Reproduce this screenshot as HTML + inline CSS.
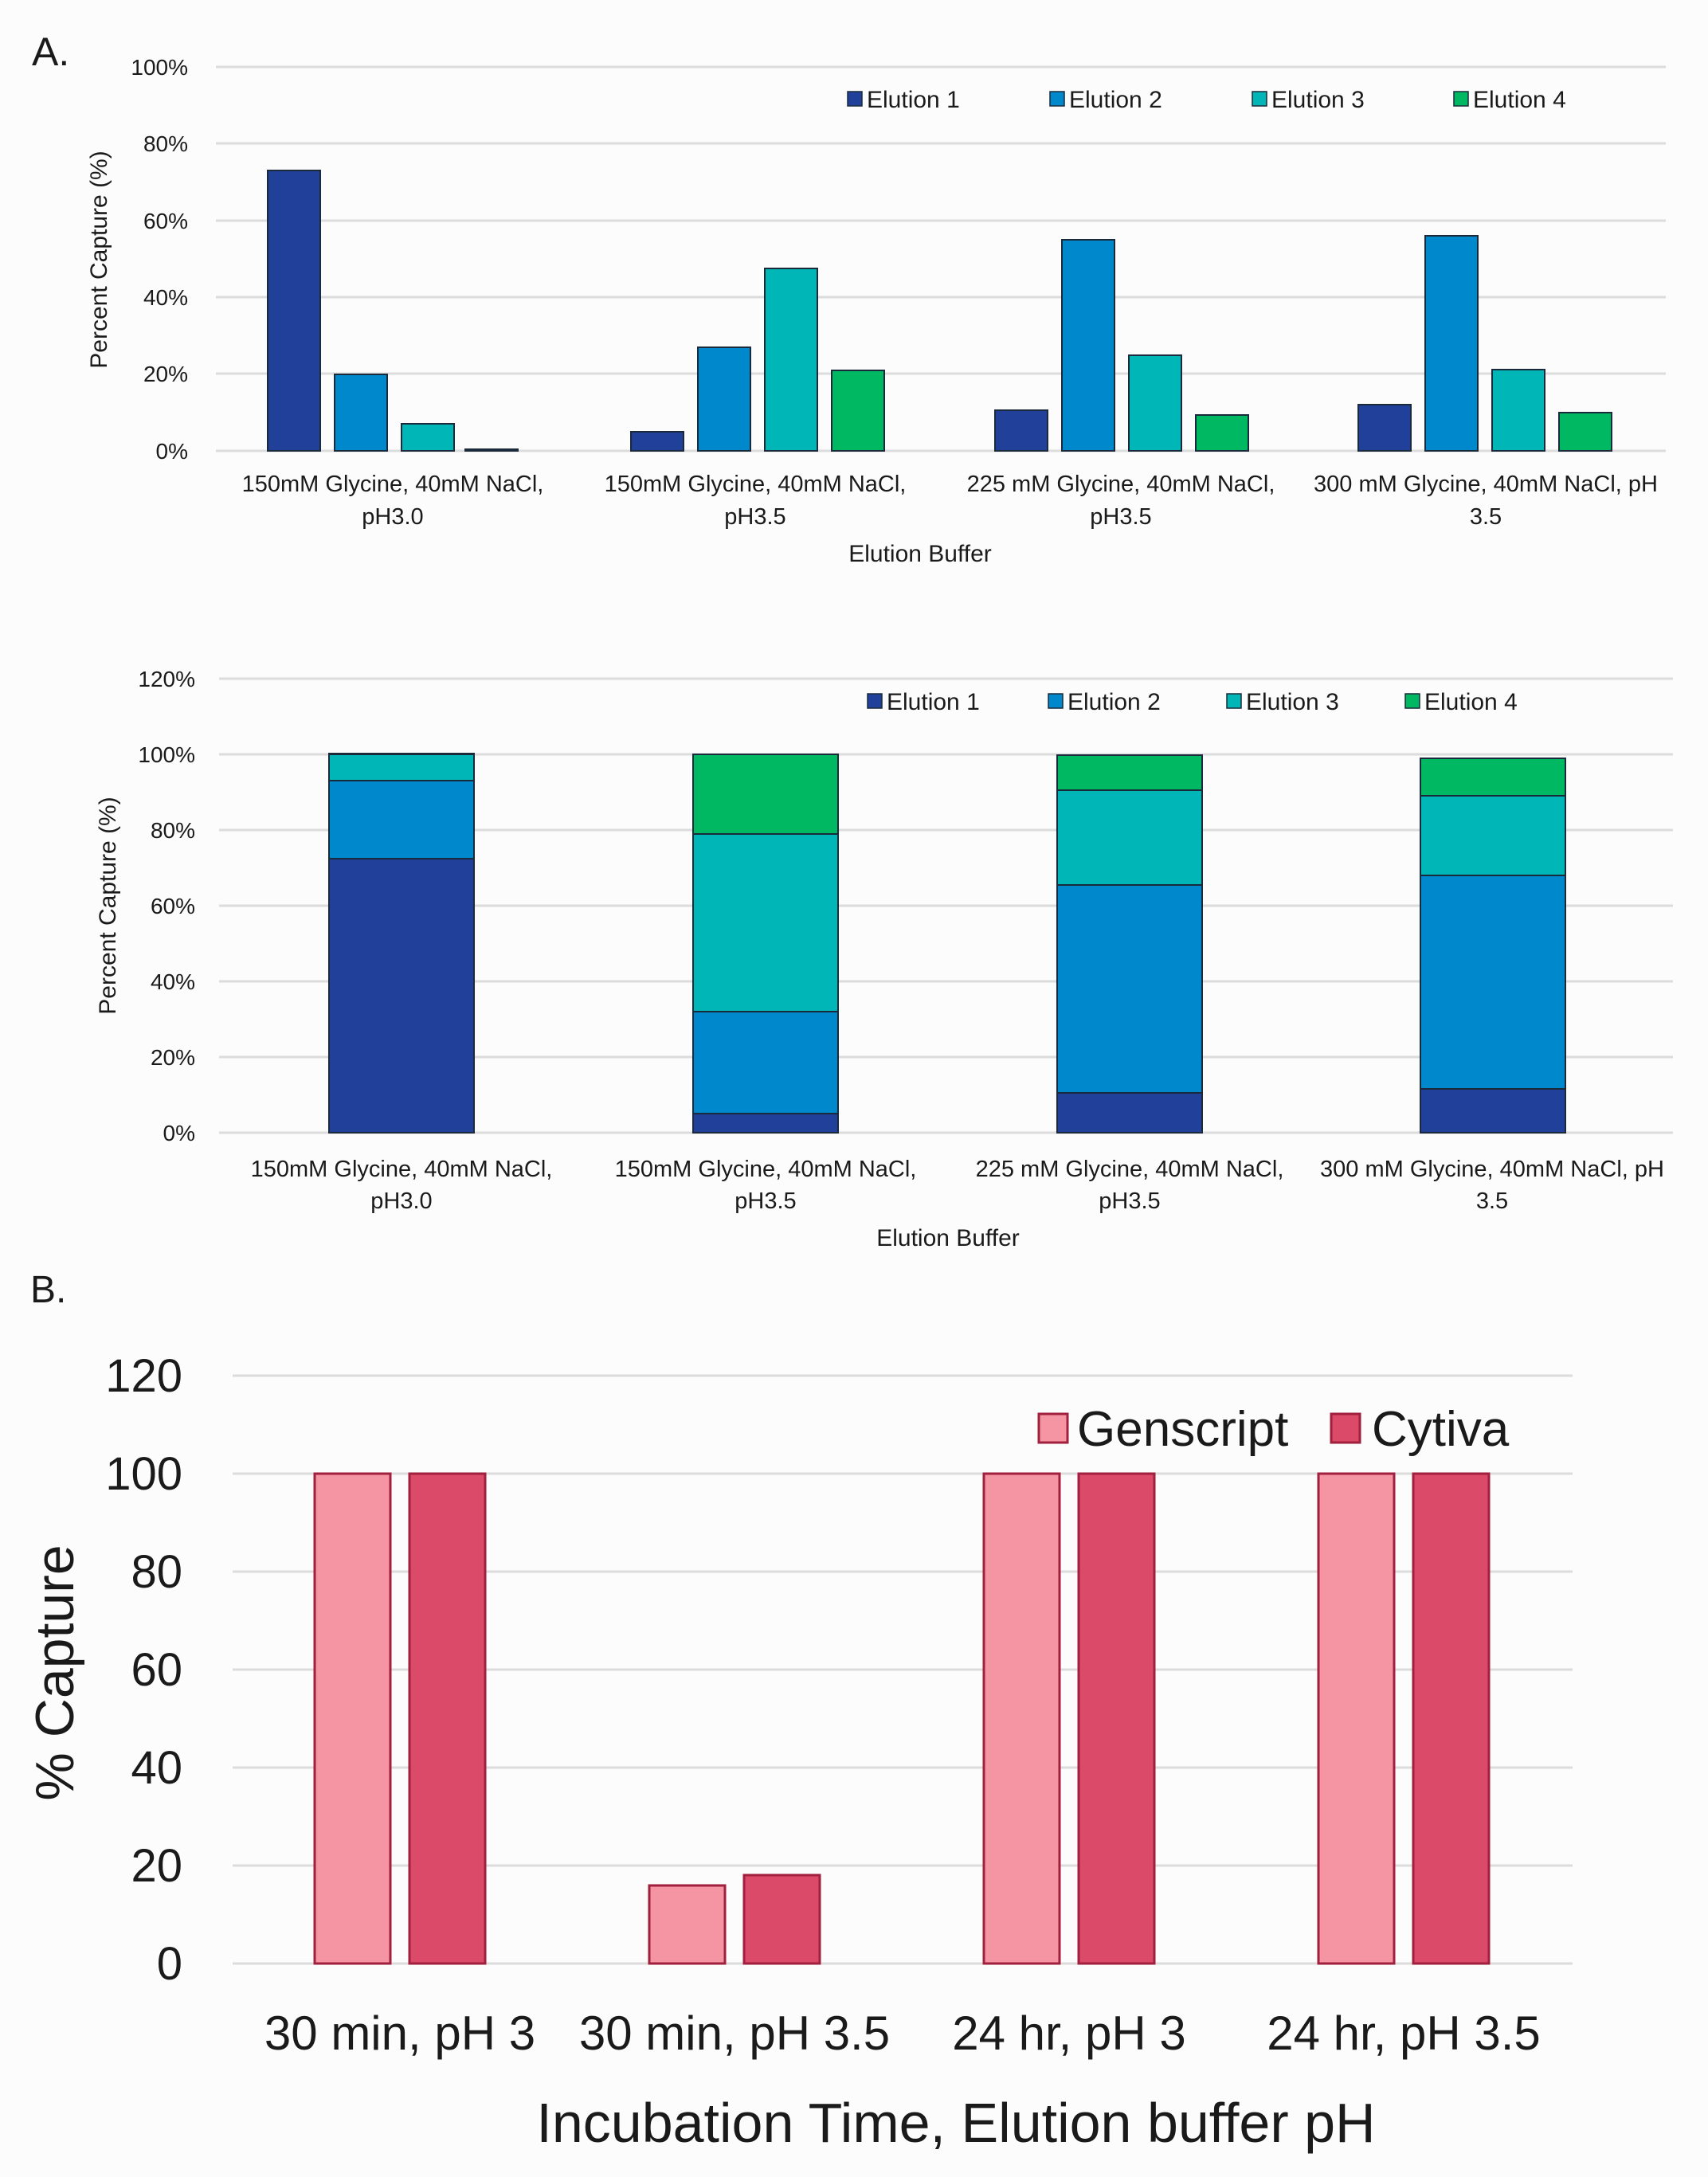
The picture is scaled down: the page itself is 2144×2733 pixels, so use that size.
<!DOCTYPE html>
<html><head><meta charset="utf-8"><style>
html,body{margin:0;padding:0;background:#fcfcfc}
svg{display:block}
text{font-family:"Liberation Sans",sans-serif;fill:#1a1a1a}
</style></head><body>
<svg width="2144" height="2733" viewBox="0 0 2144 2733" xmlns="http://www.w3.org/2000/svg">
<rect width="2144" height="2733" fill="#fcfcfc"/>
<!-- Panel A top -->
<text x="40" y="82" font-size="50">A.</text>
<g stroke="#dcdcdc" stroke-width="3">
<line x1="271" y1="84" x2="2091" y2="84"/><line x1="271" y1="180" x2="2091" y2="180"/>
<line x1="271" y1="277" x2="2091" y2="277"/><line x1="271" y1="373" x2="2091" y2="373"/>
<line x1="271" y1="469" x2="2091" y2="469"/><line x1="271" y1="566" x2="2091" y2="566"/>
</g>
<g font-size="28" text-anchor="end">
<text x="236" y="94">100%</text><text x="236" y="190">80%</text><text x="236" y="287">60%</text>
<text x="236" y="383">40%</text><text x="236" y="479">20%</text><text x="236" y="576">0%</text>
</g>
<text transform="translate(134,326) rotate(-90)" font-size="30" text-anchor="middle">Percent Capture (%)</text>
<g stroke="#1a2a3a" stroke-width="2">
<rect x="336" y="214" width="66" height="352" fill="#21409a"/>
<rect x="420" y="470" width="66" height="96" fill="#0088cc"/>
<rect x="504" y="532" width="66" height="34" fill="#00b6b6"/>
<rect x="584" y="564" width="66" height="2" fill="#00b862"/>
<rect x="792" y="542" width="66" height="24" fill="#21409a"/>
<rect x="876" y="436" width="66" height="130" fill="#0088cc"/>
<rect x="960" y="337" width="66" height="229" fill="#00b6b6"/>
<rect x="1044" y="465" width="66" height="101" fill="#00b862"/>
<rect x="1249" y="515" width="66" height="51" fill="#21409a"/>
<rect x="1333" y="301" width="66" height="265" fill="#0088cc"/>
<rect x="1417" y="446" width="66" height="120" fill="#00b6b6"/>
<rect x="1501" y="521" width="66" height="45" fill="#00b862"/>
<rect x="1705" y="508" width="66" height="58" fill="#21409a"/>
<rect x="1789" y="296" width="66" height="270" fill="#0088cc"/>
<rect x="1873" y="464" width="66" height="102" fill="#00b6b6"/>
<rect x="1957" y="518" width="66" height="48" fill="#00b862"/>
</g>
<g font-size="30">
<rect x="1064" y="115" width="18" height="18" fill="#21409a" stroke="#1a2a3a" stroke-width="1.5"/><text x="1088" y="135">Elution 1</text>
<rect x="1318" y="115" width="18" height="18" fill="#0088cc" stroke="#1a2a3a" stroke-width="1.5"/><text x="1342" y="135">Elution 2</text>
<rect x="1572" y="115" width="18" height="18" fill="#00b6b6" stroke="#1a2a3a" stroke-width="1.5"/><text x="1596" y="135">Elution 3</text>
<rect x="1825" y="115" width="18" height="18" fill="#00b862" stroke="#1a2a3a" stroke-width="1.5"/><text x="1849" y="135">Elution 4</text>
</g>
<g font-size="29" text-anchor="middle">
<text x="493" y="617">150mM Glycine, 40mM NaCl,</text><text x="493" y="658">pH3.0</text>
<text x="948" y="617">150mM Glycine, 40mM NaCl,</text><text x="948" y="658">pH3.5</text>
<text x="1407" y="617">225 mM Glycine, 40mM NaCl,</text><text x="1407" y="658">pH3.5</text>
<text x="1865" y="617">300 mM Glycine, 40mM NaCl, pH</text><text x="1865" y="658">3.5</text>
<text x="1155" y="705" font-size="30">Elution Buffer</text>
</g>
<!-- Panel A bottom -->
<g stroke="#dcdcdc" stroke-width="3">
<line x1="275" y1="852" x2="2100" y2="852"/><line x1="275" y1="947" x2="2100" y2="947"/>
<line x1="275" y1="1042" x2="2100" y2="1042"/><line x1="275" y1="1137" x2="2100" y2="1137"/>
<line x1="275" y1="1232" x2="2100" y2="1232"/><line x1="275" y1="1327" x2="2100" y2="1327"/>
<line x1="275" y1="1422" x2="2100" y2="1422"/>
</g>
<g font-size="28" text-anchor="end">
<text x="245" y="862">120%</text><text x="245" y="957">100%</text><text x="245" y="1052">80%</text>
<text x="245" y="1147">60%</text><text x="245" y="1242">40%</text><text x="245" y="1337">20%</text><text x="245" y="1432">0%</text>
</g>
<text transform="translate(145,1137) rotate(-90)" font-size="30" text-anchor="middle">Percent Capture (%)</text>
<g stroke="#1a2a3a" stroke-width="2">
<rect x="413" y="1078" width="182" height="344" fill="#21409a"/>
<rect x="413" y="980" width="182" height="98" fill="#0088cc"/>
<rect x="413" y="947" width="182" height="33" fill="#00b6b6"/>
<rect x="413" y="946" width="182" height="1" fill="#00b862"/>
<rect x="870" y="1398" width="182" height="24" fill="#21409a"/>
<rect x="870" y="1270" width="182" height="128" fill="#0088cc"/>
<rect x="870" y="1047" width="182" height="223" fill="#00b6b6"/>
<rect x="870" y="947" width="182" height="100" fill="#00b862"/>
<rect x="1327" y="1372" width="182" height="50" fill="#21409a"/>
<rect x="1327" y="1111" width="182" height="261" fill="#0088cc"/>
<rect x="1327" y="992" width="182" height="119" fill="#00b6b6"/>
<rect x="1327" y="948" width="182" height="44" fill="#00b862"/>
<rect x="1783" y="1367" width="182" height="55" fill="#21409a"/>
<rect x="1783" y="1099" width="182" height="268" fill="#0088cc"/>
<rect x="1783" y="999" width="182" height="100" fill="#00b6b6"/>
<rect x="1783" y="952" width="182" height="47" fill="#00b862"/>
</g>
<g font-size="30">
<rect x="1089" y="871" width="18" height="18" fill="#21409a" stroke="#1a2a3a" stroke-width="1.5"/><text x="1113" y="891">Elution 1</text>
<rect x="1316" y="871" width="18" height="18" fill="#0088cc" stroke="#1a2a3a" stroke-width="1.5"/><text x="1340" y="891">Elution 2</text>
<rect x="1540" y="871" width="18" height="18" fill="#00b6b6" stroke="#1a2a3a" stroke-width="1.5"/><text x="1564" y="891">Elution 3</text>
<rect x="1764" y="871" width="18" height="18" fill="#00b862" stroke="#1a2a3a" stroke-width="1.5"/><text x="1788" y="891">Elution 4</text>
</g>
<g font-size="29" text-anchor="middle">
<text x="504" y="1477">150mM Glycine, 40mM NaCl,</text><text x="504" y="1517">pH3.0</text>
<text x="961" y="1477">150mM Glycine, 40mM NaCl,</text><text x="961" y="1517">pH3.5</text>
<text x="1418" y="1477">225 mM Glycine, 40mM NaCl,</text><text x="1418" y="1517">pH3.5</text>
<text x="1873" y="1477">300 mM Glycine, 40mM NaCl, pH</text><text x="1873" y="1517">3.5</text>
<text x="1190" y="1564" font-size="30">Elution Buffer</text>
</g>
<!-- Panel B -->
<text x="38" y="1635" font-size="48">B.</text>
<g stroke="#dcdcdc" stroke-width="3">
<line x1="292" y1="1727" x2="1974" y2="1727"/><line x1="292" y1="1850" x2="1974" y2="1850"/>
<line x1="292" y1="1973" x2="1974" y2="1973"/><line x1="292" y1="2096" x2="1974" y2="2096"/>
<line x1="292" y1="2219" x2="1974" y2="2219"/><line x1="292" y1="2342" x2="1974" y2="2342"/>
<line x1="292" y1="2465" x2="1974" y2="2465"/>
</g>
<g font-size="58" text-anchor="end">
<text x="229" y="1747">120</text><text x="229" y="1870">100</text><text x="229" y="1993">80</text>
<text x="229" y="2116">60</text><text x="229" y="2239">40</text><text x="229" y="2362">20</text><text x="229" y="2485">0</text>
</g>
<text transform="translate(92,2100) rotate(-90)" font-size="68" text-anchor="middle">% Capture</text>
<g stroke="#a0203e" stroke-width="3">
<rect x="395" y="1850" width="95" height="615" fill="#f595a3"/>
<rect x="514" y="1850" width="95" height="615" fill="#dc4a6a"/>
<rect x="815" y="2367" width="95" height="98" fill="#f595a3"/>
<rect x="934" y="2354" width="95" height="111" fill="#dc4a6a"/>
<rect x="1235" y="1850" width="95" height="615" fill="#f595a3"/>
<rect x="1354" y="1850" width="95" height="615" fill="#dc4a6a"/>
<rect x="1655" y="1850" width="95" height="615" fill="#f595a3"/>
<rect x="1774" y="1850" width="95" height="615" fill="#dc4a6a"/>
</g>
<g font-size="62">
<rect x="1304" y="1775" width="36" height="36" fill="#f595a3" stroke="#a0203e" stroke-width="3"/><text x="1352" y="1815">Genscript</text>
<rect x="1671" y="1775" width="36" height="36" fill="#dc4a6a" stroke="#a0203e" stroke-width="3"/><text x="1722" y="1815">Cytiva</text>
</g>
<g font-size="60" text-anchor="middle">
<text x="502" y="2573">30 min, pH 3</text>
<text x="922" y="2573">30 min, pH 3.5</text>
<text x="1342" y="2573">24 hr, pH 3</text>
<text x="1762" y="2573">24 hr, pH 3.5</text>
<text x="1200" y="2689" font-size="70">Incubation Time, Elution buffer pH</text>
</g>
</svg>
</body></html>
